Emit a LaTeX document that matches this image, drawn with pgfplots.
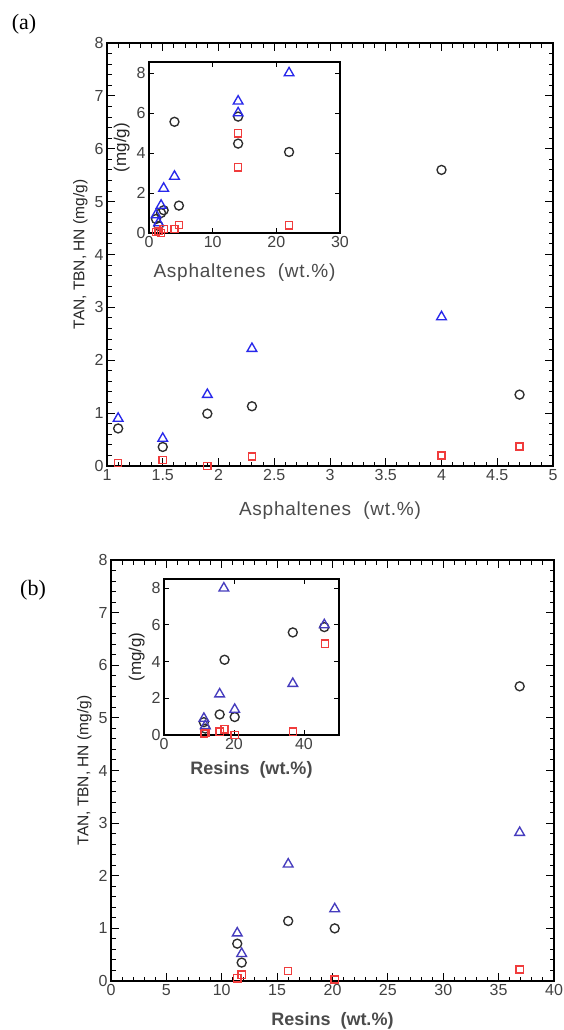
\documentclass[border=0pt]{standalone}
\usepackage{fontspec}
\setmainfont{Liberation Sans}
\newfontfamily\panelfont{Liberation Serif}
\newfontfamily\labfont[LetterSpace=4]{Liberation Sans}
\usepackage{pgfplots}
\pgfplotsset{compat=1.18}

\definecolor{tickgray}{RGB}{65,65,65}
\definecolor{labgray}{RGB}{75,75,75}
\definecolor{circcol}{RGB}{45,45,45}
\definecolor{triA}{RGB}{40,40,235}
\definecolor{triB}{RGB}{70,60,190}
\definecolor{sqcol}{RGB}{240,60,60}

\pgfplotsset{
  panel/.style={
    scale only axis,
    axis line style={line width=1.3pt},
    tick align=inside,
    every tick/.style={black, line width=1pt},
    major tick length=8pt,
    minor tick length=4.5pt,
    ticklabel style={font=\fontsize{16}{16}\selectfont, text=tickgray},
    /pgf/number format/assume math mode=true,
    axis background/.style={fill=white},
  },
  inset/.style={
    panel,
    major tick length=5pt,
    ticklabel style={font=\fontsize{16}{16}\selectfont, text=tickgray},
  },
  pcirc/.style={only marks, mark=o, mark size=4.5pt, mark options={line width=1.35pt}, color=circcol},
  ptriA/.style={only marks, mark=triangle, mark size=5.6pt, mark options={line width=1.35pt}, color=triA},
  ptriB/.style={only marks, mark=triangle, mark size=5.6pt, mark options={line width=1.35pt}, color=triB},
  psq/.style={only marks, mark=square, mark size=3.6pt, mark options={line width=1.35pt}, color=sqcol},
}

\begin{document}
\begin{tikzpicture}
\path[use as bounding box] (0,0) rectangle (563pt,-1030pt);

% ---------------- panel (a) ----------------
\node[anchor=center, font=\panelfont\fontsize{22}{22}\selectfont] at (24pt,-24pt) {(a)};

\begin{axis}[panel,
  at={(107pt,-466pt)}, anchor=south west,
  width=446pt, height=423pt,
  xmin=1, xmax=5, ymin=0, ymax=8,
  xtick={1,1.5,...,5}, ytick={0,1,...,8},
  minor x tick num=4, minor y tick num=4,
  xlabel={\labfont\fontsize{19}{19}\selectfont Asphaltenes\ \ (wt.\%)},
  xlabel style={text=labgray, yshift=-14pt},
  ylabel={\fontsize{15.5}{15.5}\selectfont TAN, TBN, HN (mg/g)},
  ylabel style={text=black!85, yshift=0pt},
]
\addplot[pcirc] coordinates {(1.1,0.71) (1.5,0.36) (1.9,0.99) (2.3,1.13) (4.0,5.6) (4.7,1.35)};
\addplot[ptriA] coordinates {(1.1,0.9) (1.5,0.52) (1.9,1.35) (2.3,2.22) (4.0,2.82)};
\addplot[psq] coordinates {(1.1,0.06) (1.5,0.11) (1.9,0.0) (2.3,0.18) (4.0,0.2) (4.7,0.37)};
\end{axis}

\begin{axis}[inset,
  at={(149pt,-233pt)}, anchor=south west,
  width=191pt, height=171pt,
  xmin=0, xmax=30, ymin=0, ymax=8.55,
  xtick={0,10,20,30}, ytick={0,2,4,6,8},
  xlabel={\labfont\fontsize{19}{19}\selectfont Asphaltenes\ \ (wt.\%)},
  xlabel style={text=labgray, yshift=-9pt},
  ylabel={\fontsize{17}{17}\selectfont (mg/g)},
  ylabel style={text=black!85, yshift=0pt},
]
\addplot[pcirc] coordinates {(1.1,0.7) (1.5,0.35) (1.9,1.0) (2.3,1.14) (4.0,5.56) (4.7,1.37) (14,5.82) (14,4.47) (22,4.05)};
\addplot[ptriA] coordinates {(1.1,0.9) (1.5,0.5) (1.9,1.38) (2.3,2.23) (4.0,2.83) (14,6.59) (14,6.0) (22,8.0)};
\addplot[psq] coordinates {(1.1,0.06) (1.5,0.11) (1.9,0.0) (2.3,0.2) (4.0,0.2) (4.7,0.41) (14,4.98) (14,3.28) (22,0.38)};
\end{axis}

% ---------------- panel (b) ----------------
\node[anchor=center, font=\panelfont\fontsize{22}{22}\selectfont] at (33pt,-590pt) {(b)};

\begin{axis}[panel,
  at={(111pt,-981pt)}, anchor=south west,
  width=443pt, height=421pt,
  xmin=0, xmax=40, ymin=0, ymax=8,
  xtick={0,5,...,40}, ytick={0,1,...,8},
  minor x tick num=4, minor y tick num=4,
  xlabel={\bfseries\fontsize{18}{18}\selectfont Resins\ \ (wt.\%)},
  xlabel style={text=labgray, yshift=-10pt},
  ylabel={\fontsize{15.5}{15.5}\selectfont TAN, TBN, HN (mg/g)},
  ylabel style={text=black!85, yshift=0pt},
]
\addplot[pcirc] coordinates {(11.4,0.71) (11.8,0.35) (16.0,1.14) (20.2,1.0) (36.9,5.6)};
\addplot[ptriB] coordinates {(11.4,0.91) (11.8,0.52) (16.0,2.22) (20.2,1.37) (36.9,2.82)};
\addplot[psq] coordinates {(11.4,0.05) (11.8,0.12) (16.0,0.19) (20.2,0.03) (36.9,0.22)};
\end{axis}

\begin{axis}[inset,
  at={(164pt,-735pt)}, anchor=south west,
  width=175pt, height=156pt,
  xmin=0, xmax=50, ymin=0, ymax=8.5,
  xtick={0,20,40}, ytick={0,2,4,6,8},
  xlabel={\bfseries\fontsize{18}{18}\selectfont Resins\ \ (wt.\%)},
  xlabel style={text=labgray, yshift=-5pt},
  ylabel={\fontsize{17}{17}\selectfont (mg/g)},
  ylabel style={text=black!85, yshift=0pt},
]
\addplot[pcirc] coordinates {(11.4,0.7) (11.8,0.35) (15.9,1.12) (20.2,0.98) (36.8,5.59) (17.3,4.1) (45.8,5.88)};
\addplot[ptriB] coordinates {(11.4,0.9) (11.8,0.5) (15.9,2.23) (20.2,1.39) (36.8,2.8) (17.1,8.0) (45.8,6.0)};
\addplot[psq] coordinates {(11.4,0.05) (11.8,0.12) (15.9,0.18) (20.2,0.0) (36.8,0.18) (17.3,0.31) (46.0,4.98)};
\end{axis}
\end{tikzpicture}
\end{document}
